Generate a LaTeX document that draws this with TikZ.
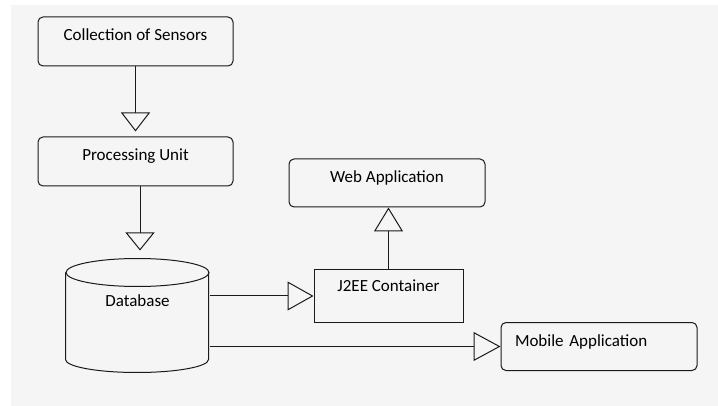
\documentclass[tikz,border=0pt]{standalone}
\usepackage{fontspec}
\setmainfont{Carlito}
\usetikzlibrary{arrows.meta,calc}

\definecolor{panel}{HTML}{F5F5F5}
\definecolor{ink}{HTML}{1A1A1A}

\tikzset{
    box/.style={
        draw=ink,
        line width=1pt,
        rounded corners=5pt,
        minimum width=195pt,
        minimum height=49pt,
        inner sep=0pt,
        text height=8pt,
        text depth=9pt,
        text=black,
        font=\fontsize{17}{19}\selectfont
    },
    flow/.style={
        draw=ink,
        line width=1pt,
        -{Triangle[open,length=#1,width=29pt]}
    }
}

\begin{document}
\begin{tikzpicture}[x=1pt,y=-1pt]
            \useasboundingbox (0,0) rectangle (718,406);
            \fill[panel] (11,5) rectangle (718,406);

            \node[
                box,
                name=sensors
            ] at (135.5,41.5) {Collection of Sensors};
            \node[
                box,
                name=proc
            ] at (135.5,161.5) {Processing Unit};

            \node[
                box,
                minimum width=196pt,
                minimum height=48pt,
                name=web
            ] at (387,183) {Web Application};
            \node[
                box,
                rounded corners=0pt,
                minimum width=149pt,
                minimum height=52pt,
                text depth=16pt,
                name=j2ee
            ] at (388.5,296) {J2EE Container};
            \node[
                box,
                minimum height=48pt,
                minimum width=196pt,
                inner xsep=14pt,
                text width=168pt,
                align=left,
                name=mobile
            ] at (599,346.5) {Mobile Application};

            \node[
                box,
                draw=none,
                minimum width=143pt,
                minimum height=114pt,
                text depth=26pt,
                name=db
            ] at (137.5,316) {Database};

            \draw[ink, line width=1pt] (db.north) ++(0,14) ellipse [x radius=71.5, y radius=14];
            \draw[ink, line width=1pt] (db.north west) ++(0,14) -- ++(0,87)
                arc [start angle=180, end angle=0, x radius=71.5, y radius=13] -- ++(0,-87);

            \draw[flow=19pt, shorten >=5pt] (sensors) -- (proc);
            \draw[flow=18pt, shorten >=8pt] ([xshift=4.5pt]proc.south) -- ([xshift=4.5pt]proc.south |- db.north);

            \draw[flow=26pt] (j2ee.west -| db.east) -- (j2ee.west);
            \draw[flow=24pt] (j2ee.north) -- (j2ee.north |- web.south);

            \draw[flow=27pt] (mobile.west -| db.east) -- (mobile.west);
\end{tikzpicture}
\end{document}
